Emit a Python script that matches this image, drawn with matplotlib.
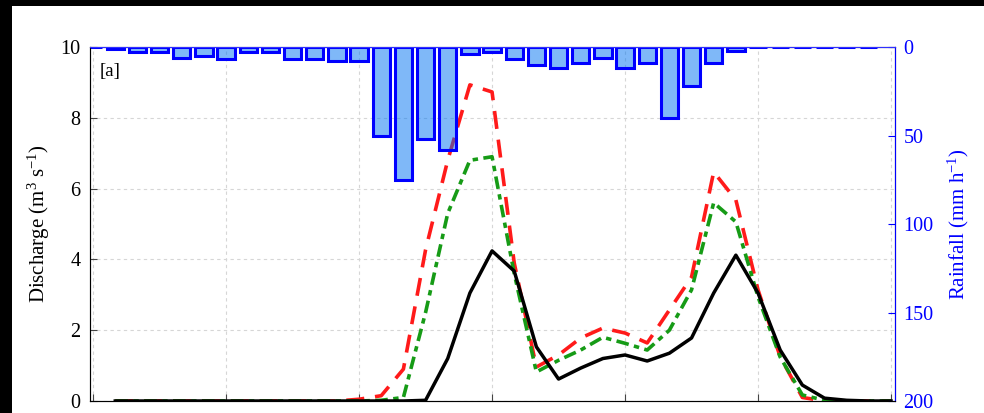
import numpy as np
import matplotlib
matplotlib.use("Agg")
import matplotlib.pyplot as plt
from matplotlib.patches import Rectangle

plt.rcParams['font.family'] = ['Liberation Serif', 'DejaVu Serif']
plt.rcParams['mathtext.fontset'] = 'custom'
plt.rcParams['mathtext.rm'] = 'Liberation Serif'
plt.rcParams['mathtext.default'] = 'regular'

# time step index (one bar per step)
steps = np.arange(0, 37)

# rainfall per step (mm/h), steps 0..35
rain = [0, 1, 3, 3, 6, 5, 7, 3, 3, 7, 7, 8, 8, 50, 75, 52, 58, 4,
        3, 7, 10, 12, 9, 6, 12, 9, 40, 22, 9, 2, 0, 0, 0, 0, 0, 0]

# discharge (m3/s), steps 1..36
observed = [0, 0, 0, 0, 0, 0, 0, 0, 0, 0, 0, 0, 0, 0, 0.02, 1.2, 3.05, 4.24,
            3.67, 1.53, 0.62, 0.93, 1.2, 1.3, 1.13, 1.35, 1.78, 3.05, 4.12,
            3.05, 1.44, 0.45, 0.08, 0.02, 0, 0]
sim_red = [0, 0, 0, 0, 0, 0, 0, 0, 0, 0, 0, 0.05, 0.15, 0.9, 4.27, 6.8, 8.93,
           8.73, 3.9, 0.96, 1.3, 1.78, 2.06, 1.92, 1.64, 2.57, 3.5, 6.47, 5.68,
           3.14, 1.25, 0.1, 0, 0, 0, 0]
sim_green = [0, 0, 0, 0, 0, 0, 0, 0, 0, 0, 0, 0, 0.02, 0.1, 2.5, 5.3, 6.8,
             6.9, 3.6, 0.82, 1.15, 1.44, 1.8, 1.63, 1.44, 2.0, 3.14, 5.6, 5.06,
             2.94, 1.24, 0.17, 0.02, 0, 0, 0]

fig = plt.figure(figsize=(9.84, 4.13), dpi=100)
fig.patch.set_facecolor('black')
fig.patches.append(Rectangle((12 / 984, 0), 1, 1 - 6 / 413, transform=fig.transFigure,
                             facecolor='white', edgecolor='none', zorder=-10))

ax = fig.add_axes([90 / 984, 12 / 413, 805 / 984, 354 / 413])
t = steps[1:]
ax.plot(t, observed, color='black', lw=2.5, zorder=3)
ax.plot(t, sim_red, color='#ff1a1a', lw=2.6, ls=(0, (5, 3)), zorder=2)
ax.plot(t, sim_green, color='#169b16', lw=2.6, ls=(0, (3.5, 1.5, 1.5, 1.5)), zorder=2)

ax.set_xlim(-0.14, 36.18)
ax.set_ylim(0, 10)
ax.set_xticks(np.arange(0, 37, 6))
ax.set_xticklabels([])
ax.set_yticks([0, 2, 4, 6, 8, 10])
ax.grid(True, color='#d6d6d6', ls=(0, (3, 3)), lw=0.8)
ax.tick_params(direction='in', length=5, labelsize=14.5, pad=7, color='#444444')
for s in ['left', 'bottom']:
    ax.spines[s].set_color('#555555')
ax.set_ylabel('Discharge (m$^{3}$ s$^{-1}$)', fontsize=15, labelpad=6)
ax.text(0.012, 0.93, '[a]', transform=ax.transAxes, fontsize=13.5, va='center')

ax2 = ax.twinx()
ax2.bar(steps[:-1], rain, width=0.78, facecolor=(0.0, 0.45, 0.95, 0.5),
        edgecolor='#0000ff', linewidth=2.2)
ax2.set_ylim(200, 0)
ax2.set_yticks([0, 50, 100, 150, 200])
ax2.tick_params(direction='in', length=5, labelsize=14.5, pad=6, colors='#0000ff')
ax2.spines['right'].set_color('#0000ff')
ax2.spines['top'].set_color('#3030ff')
ax2.set_ylabel('Rainfall (mm h$^{-1}$)', fontsize=15, color='#0000ff', labelpad=9)

fig.savefig('out.png', dpi=100, facecolor=fig.get_facecolor())
